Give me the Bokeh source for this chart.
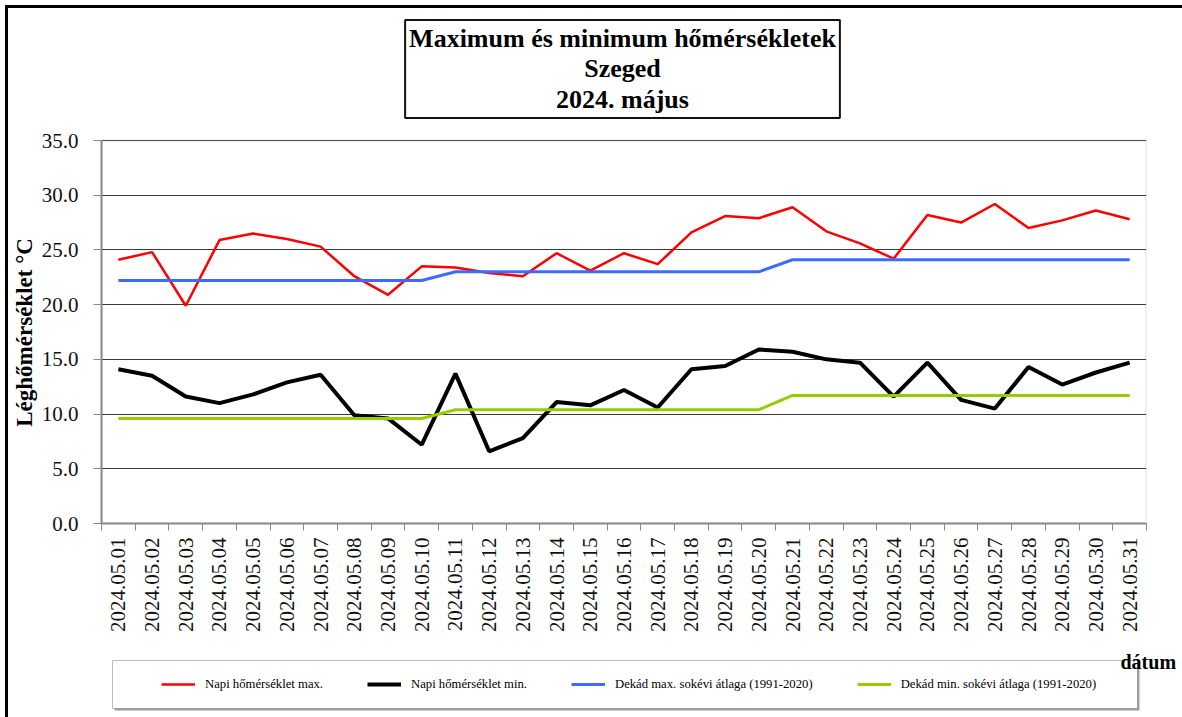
import math
from bokeh.plotting import figure
from bokeh.layouts import column, row
from bokeh.models import (Range1d, FixedTicker, NumeralTickFormatter, Legend,
                          LegendItem, Label, BoxAnnotation)
from bokeh.embed import file_html
from bokeh.resources import INLINE

dates = ["2024.05.01", "2024.05.02", "2024.05.03", "2024.05.04", "2024.05.05",
         "2024.05.06", "2024.05.07", "2024.05.08", "2024.05.09", "2024.05.10",
         "2024.05.11", "2024.05.12", "2024.05.13", "2024.05.14", "2024.05.15",
         "2024.05.16", "2024.05.17", "2024.05.18", "2024.05.19", "2024.05.20",
         "2024.05.21", "2024.05.22", "2024.05.23", "2024.05.24", "2024.05.25",
         "2024.05.26", "2024.05.27", "2024.05.28", "2024.05.29", "2024.05.30",
         "2024.05.31"]

t_max = [24.1, 24.8, 19.9, 25.9, 26.5, 26.0, 25.3, 22.6, 20.9, 23.5,
         23.4, 22.9, 22.6, 24.7, 23.1, 24.7, 23.7, 26.6, 28.1, 27.9,
         28.9, 26.7, 25.6, 24.2, 28.2, 27.5, 29.2, 27.0, 27.7, 28.6, 27.8]
t_min = [14.1, 13.5, 11.6, 11.0, 11.8, 12.9, 13.6, 9.9, 9.6, 7.2,
         13.7, 6.6, 7.8, 11.1, 10.8, 12.2, 10.6, 14.1, 14.4, 15.9,
         15.7, 15.0, 14.7, 11.6, 14.7, 11.3, 10.5, 14.3, 12.7, 13.8, 14.7]
avg_max = [22.2, 22.2, 22.2, 22.2, 22.2, 22.2, 22.2, 22.2, 22.2, 22.2,
           23.0, 23.0, 23.0, 23.0, 23.0, 23.0, 23.0, 23.0, 23.0, 23.0,
           24.1, 24.1, 24.1, 24.1, 24.1, 24.1, 24.1, 24.1, 24.1, 24.1, 24.1]
avg_min = [9.6, 9.6, 9.6, 9.6, 9.6, 9.6, 9.6, 9.6, 9.6, 9.6,
           10.4, 10.4, 10.4, 10.4, 10.4, 10.4, 10.4, 10.4, 10.4, 10.4,
           11.7, 11.7, 11.7, 11.7, 11.7, 11.7, 11.7, 11.7, 11.7, 11.7, 11.7]
y_ticks = [0, 5, 10, 15, 20, 25, 30, 35]

series_names = ["Napi hőmérséklet max.", "Napi hőmérséklet min.",
                "Dekád max. sokévi átlaga (1991-2020)", "Dekád min. sokévi átlaga (1991-2020)"]
series_colors = ["#FF0000", "#000000", "#3D6BFF", "#99CC00"]
series_widths = [2.5, 4, 3, 3]
series_values = [t_max, t_min, avg_max, avg_min]
title_text = "Maximum és minimum hőmérsékletek\nSzeged\n2024. május"
x_title = "dátum"
y_title = "Léghőmérséklet  °C"

FONT = "Liberation Serif"
days = list(range(1, len(dates) + 1))
x_lo, x_hi = 0.5, len(dates) + 0.5
y_lo, y_hi = y_ticks[0], y_ticks[-1]
# the frame reaches up to the top of the chart so that the title box fits inside it
Y_TOP = 46.15

TOP_H = 637
LEG_H = 72
YLAB_W = 30
MAIN_W = 1144

# ---------------- main chart ----------------
p = figure(width=MAIN_W, height=TOP_H, output_backend="svg", toolbar_location=None,
           x_range=Range1d(x_lo, x_hi), y_range=Range1d(y_lo, Y_TOP),
           min_border_left=62, min_border_right=36, min_border_top=10,
           min_border_bottom=122)
p.background_fill_color = "white"
p.border_fill_color = "white"
p.outline_line_color = None

p.xaxis.ticker = FixedTicker(ticks=days, minor_ticks=[d - 0.5 for d in days] + [days[-1] + 0.5])
p.xaxis.major_label_overrides = {d: lab for d, lab in zip(days, dates)}
p.xaxis.major_label_orientation = math.pi / 2
p.xaxis.major_tick_out = 0
p.xaxis.major_tick_in = 0
p.xaxis.major_tick_line_color = None
p.xaxis.minor_tick_out = 7
p.xaxis.minor_tick_in = 0
p.xaxis.minor_tick_line_color = "#888888"
p.xaxis.minor_tick_line_width = 1
p.xaxis.axis_line_color = "#888888"
p.xaxis.axis_line_width = 2
p.xaxis.major_label_standoff = 7
p.xaxis.major_label_text_font = FONT
p.xaxis.major_label_text_font_size = "21px"
p.xaxis.major_label_text_color = "#111111"

p.yaxis.ticker = FixedTicker(ticks=y_ticks)
p.yaxis.bounds = (y_lo, y_hi)
p.yaxis.formatter = NumeralTickFormatter(format="0.0")
p.yaxis.major_tick_out = 8
p.yaxis.major_tick_in = 0
p.yaxis.major_tick_line_color = "#888888"
p.yaxis.minor_tick_line_color = None
p.yaxis.axis_line_color = "#888888"
p.yaxis.axis_line_width = 2
p.yaxis.major_label_standoff = 15
p.yaxis.major_label_text_font = FONT
p.yaxis.major_label_text_font_size = "21px"
p.yaxis.major_label_text_color = "#111111"

p.xgrid.visible = False
p.ygrid.grid_line_color = "#3a3a3a"
p.ygrid.grid_line_width = 1

p.add_layout(BoxAnnotation(left=x_lo, right=x_hi, bottom=y_lo, top=y_hi,
                           fill_alpha=0, line_color="#999999", line_width=2))

for vals, col, lw in zip(series_values, series_colors, series_widths):
    p.line(days, vals, line_color=col, line_width=lw)

p.add_layout(Label(x=521, y=454.5, x_units="screen", y_units="screen",
                   text=title_text, text_align="center", text_baseline="middle",
                   text_font=FONT, text_font_style="bold", text_font_size="26px",
                   text_line_height=1.05, text_color="black",
                   border_line_color="#111111", border_line_width=2,
                   background_fill_color="white", padding=4))

# ---------------- y axis title strip ----------------
yl = figure(width=YLAB_W, height=TOP_H, output_backend="svg", toolbar_location=None,
            x_axis_location=None, y_axis_location=None, min_border=0,
            x_range=Range1d(0, 1), y_range=Range1d(0, 1))
yl.outline_line_color = None
yl.grid.visible = False
yl.add_layout(Label(x=16, y=194, x_units="screen", y_units="screen",
                    text=y_title, angle=math.pi / 2, text_align="center",
                    text_baseline="middle", text_font=FONT, text_font_style="bold",
                    text_font_size="23px", text_color="black"))

# ---------------- legend strip ----------------
lf = figure(width=YLAB_W + MAIN_W, height=LEG_H, output_backend="svg", toolbar_location=None,
            x_axis_location=None, y_axis_location=None, min_border=0,
            x_range=Range1d(x_lo, x_hi), y_range=Range1d(y_lo, y_hi))
lf.outline_line_color = None
lf.grid.visible = False
leg_renderers = []
for vals, col, lw in zip(series_values, series_colors, series_widths):
    r = lf.line(days, vals, line_color=col, line_width=lw)
    r.visible = False
    leg_renderers.append(r)

lf.add_layout(BoxAnnotation(left=106, right=1131, top=LEG_H - 17, bottom=LEG_H - 65,
                            left_units="screen", right_units="screen",
                            top_units="screen", bottom_units="screen",
                            fill_color="#A0A0A0", fill_alpha=1, line_color=None))
lf.add_layout(BoxAnnotation(left=104, right=1129, top=LEG_H - 15, bottom=LEG_H - 63,
                            left_units="screen", right_units="screen",
                            top_units="screen", bottom_units="screen",
                            fill_color="white", fill_alpha=1,
                            line_color="#222222", line_width=1))

legend = Legend(items=[LegendItem(label=n, renderers=[r]) for n, r in
                       zip(series_names, leg_renderers)],
                orientation="horizontal", location=(153, LEG_H - 49),
                margin=0, padding=0, spacing=44, glyph_width=34, glyph_height=20,
                label_standoff=10, label_height=20,
                label_text_font=FONT, label_text_font_size="12.7px",
                label_text_color="black", inactive_fill_alpha=0,
                border_line_color=None, background_fill_alpha=0)
lf.add_layout(legend, "center")

lf.add_layout(Label(x=1112, y=LEG_H - 16, x_units="screen", y_units="screen",
                    text=x_title, text_align="left", text_baseline="alphabetic",
                    text_font=FONT, text_font_style="bold", text_font_size="20px",
                    text_color="black"))

root = column(row(yl, p), lf)
root.styles = {"margin-left": "5px", "margin-top": "5px",
               "border-left": "3px solid black", "border-top": "3px solid black"}

open("out.html", "w").write(file_html(root, INLINE))
